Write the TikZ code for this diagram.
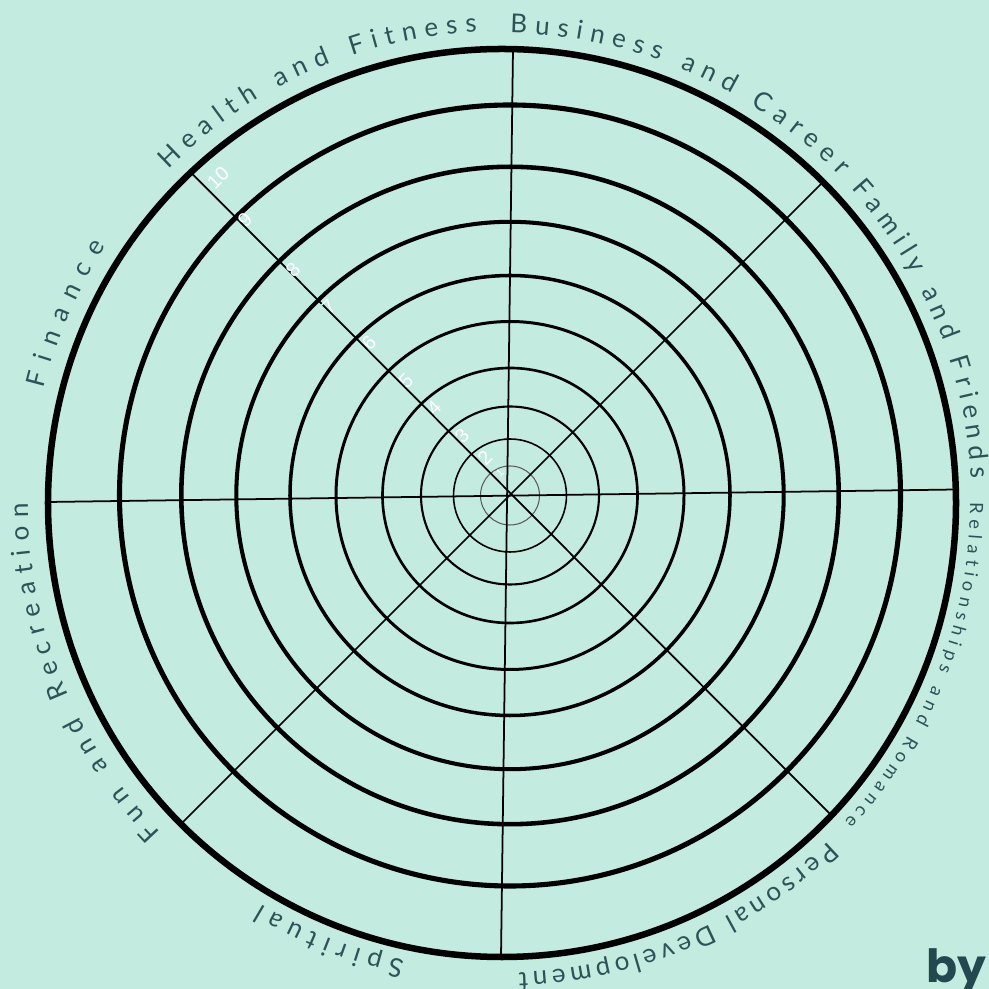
\documentclass[tikz,border=0pt]{standalone}
\usepackage{fontspec}
\usetikzlibrary{decorations.text}
\newfontfamily\lblfont{Lato}
\newfontfamily\numfont{Liberation Sans}
\newfontfamily\byfont{Poppins}
\newcommand\lblbig{\lblfont\fontsize{7.4}{9}\selectfont}
\newcommand\lblsmall{\lblfont\fontsize{5.2}{6}\selectfont}
\definecolor{mint}{HTML}{C4EBDF}
\definecolor{ink}{HTML}{2F5259}
\definecolor{inkdark}{HTML}{234950}
\tikzset{
  ring/.style={draw=black, line width=#1},
  spoke/.style={draw=black, line width=0.5pt},
  num/.style={text=white, font=\numfont\fontsize{5.6}{6}\selectfont, rotate=45, inner sep=0pt},
  lbl/.style n args={2}{decorate, decoration={text along path, text align=fit to path, text color=ink, text={|#1|#2}}},
}

\begin{document}
\begin{tikzpicture}[x=0.01cm, y=0.01cm]
  \useasboundingbox (-510,-493.5) rectangle (479,495.5);
  \clip (-510,-493.5) rectangle (479,495.5);
  \fill[mint] (-510,-493.5) rectangle (479,495.5);
  \coordinate (c) at (0,0);
  \coordinate (oc) at (-8,-7.5);
  % score rings
  \draw[ring=0.3pt, draw=black!65] (c) circle[radius=29.5];
  \foreach \r/\w in {56.5/0.45pt, 89/0.6pt, 127.5/0.75pt, 174/0.85pt, 220/1pt, 273.7/1.15pt, 328.7/1.3pt, 390.5/1.45pt}
    \draw[ring=\w] (c) circle[radius=\r];
  \draw[ring=1.85pt] (oc) circle[radius=454];
  % spokes
  \coordinate (sN) at (3,446.5);
  \coordinate (sS) at (-9,-461.5);
  \coordinate (sW) at (-462,-6.5);
  \coordinate (sE) at (446,6);
  \coordinate (sNW) at (-318.3,322.2);
  \coordinate (sSE) at (321,-319.5);
  \coordinate (sNE) at (311.7,312.2);
  \coordinate (sSW) at (-326.7,-326.2);
  \draw[spoke] (sN) -- (sS);
  \draw[spoke] (sW) -- (sE);
  \draw[spoke] (sNW) -- (sSE);
  \draw[spoke] (sNE) -- (sSW);
  % scale
  \foreach \k/\x/\y in {2/-25/37.5, 3/-48/59.5, 4/-76/87.5, 5/-104/114.5, 6/-141/152.5, 7/-181/188.5, 8/-217/225.5, 9/-265/275.5, 10/-292/317.5}
    \node[num] (n\k) at (\x,\y) {\k};
  \node[num, font=\numfont\fontsize{3}{4}\selectfont] (n1) at (-10,22.5) {1};
  % areas of life
  \begin{scope}[shift={(oc)}]
    \path[lbl={\lblbig}{Finance}] (166:472) arc[start angle=166, end angle=147, radius=472];
    \path[lbl={\lblbig}{Health and Fitness}] (135:472) arc[start angle=135, end angle=93, radius=472];
    \path[lbl={\lblbig}{Business and Career}] (89:470) arc[start angle=89, end angle=44, radius=470];
    \path[lbl={\lblbig}{Family and Friends}] (42:470) arc[start angle=42, end angle=3, radius=470];
    \path[lbl={\lblsmall}{Relationships and Romance}] (0:468) arc[start angle=0, end angle=-43, radius=468];
    \path[lbl={\lblbig}{Personal Development}] (-46:470) arc[start angle=-46, end angle=-88, radius=470];
    \path[lbl={\lblbig}{Spiritual}] (-102:468) arc[start angle=-102, end angle=-121, radius=468];
    \path[lbl={\lblbig}{Fun and Recreation}] (-136:474) arc[start angle=-136, end angle=-180, radius=474];
  \end{scope}
  \node[anchor=base west, inner sep=0pt, text=inkdark, font=\byfont\bfseries\fontsize{13}{15}\selectfont] (by) at (416,-486.5) {by};
\end{tikzpicture}
\end{document}
